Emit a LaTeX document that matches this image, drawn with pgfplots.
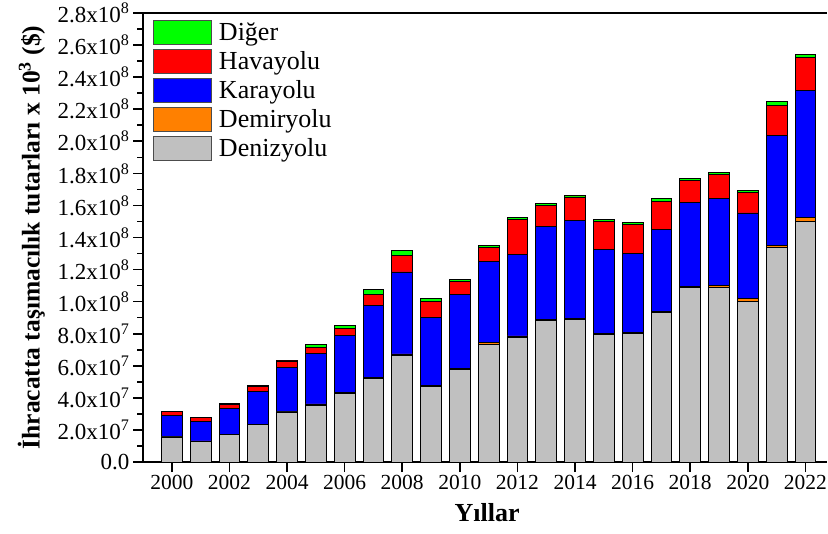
\documentclass[border=0pt]{standalone}
\usepackage{fontspec}
\setmainfont{Liberation Serif}
\usepackage{pgfplots}
\usepackage{pgfplotstable}
\pgfplotsset{compat=1.18}
\usetikzlibrary{calc}

\definecolor{cDeniz}{HTML}{C0C0C0}
\definecolor{cDemir}{HTML}{FF8000}
\definecolor{cKara}{HTML}{0000FF}
\definecolor{cHava}{HTML}{FF0000}
\definecolor{cDiger}{HTML}{00FF00}

% values in millions (x10^6)
\pgfplotstableread{
year deniz demir kara hava diger
2000 15.6 0.2 13.1 2.5 0.3
2001 12.9 0.2 12.1 2.5 0.3
2002 17.1 0.2 16.2 2.5 0.3
2003 23.3 0.3 20.3 3.3 0.4
2004 31.2 0.4 27.3 4.1 0.5
2005 35.4 0.8 31.4 3.7 1.9
2006 42.8 0.6 35.4 4.4 2.2
2007 52.0 1.0 44.5 6.9 3.0
2008 66.3 1.1 51.1 10.4 3.1
2009 47.2 0.8 42.2 10.0 1.9
2010 57.6 0.8 46.2 8.1 1.0
2011 73.2 1.2 50.6 8.9 1.0
2012 77.6 1.0 50.7 22.0 1.1
2013 88.2 0.8 57.8 13.3 1.4
2014 88.8 0.6 61.3 14.6 1.2
2015 79.4 1.0 52.1 17.6 1.1
2016 80.1 0.8 49.2 17.9 1.3
2017 93.2 0.8 50.9 17.5 1.9
2018 108.8 0.8 52.2 13.9 1.4
2019 108.8 1.2 54.3 14.9 1.5
2020 100.4 1.7 53.2 12.7 1.4
2021 133.9 1.2 68.8 18.7 2.3
2022 150.1 2.3 79.2 20.6 1.9
}\datatable

\begin{document}
\begin{tikzpicture}
\begin{axis}[
    name=ax,
    scale only axis,
    width=684pt, height=449pt,
    ybar stacked,
    bar width=20.7pt,
    xmin=1999, xmax=2022.75,
    ymin=0, ymax=280,
    axis x line*=bottom,
    axis y line*=left,
    axis line style={line width=1.6pt},
    xtick={2000,2002,...,2022},
    minor x tick num=1,
    ytick={0,20,...,280},
    minor y tick num=1,
    yticklabels={0.0, 2.0x10\textsuperscript{7}, 4.0x10\textsuperscript{7}, 6.0x10\textsuperscript{7}, 8.0x10\textsuperscript{7},
        1.0x10\textsuperscript{8}, 1.2x10\textsuperscript{8}, 1.4x10\textsuperscript{8}, 1.6x10\textsuperscript{8},
        1.8x10\textsuperscript{8}, 2.0x10\textsuperscript{8}, 2.2x10\textsuperscript{8}, 2.4x10\textsuperscript{8},
        2.6x10\textsuperscript{8}, 2.8x10\textsuperscript{8}},
    tick align=outside,
    major tick length=10pt,
    minor tick length=6pt,
    tick style={line width=1.6pt, black},
    xticklabel style={/pgf/number format/1000 sep={}, /pgf/number format/assume math mode=true, font=\fontsize{21.5}{24}\selectfont},
    yticklabel style={font=\fontsize{23}{26}\selectfont},
    xlabel={\textbf{Yıllar}},
    xlabel style={font=\fontsize{26}{30}\selectfont, at={(axis description cs:0.503,-0.112)}, anchor=center},
    ylabel={\textbf{İhracatta taşımacılık tutarları x 10\textsuperscript{3} (\$)}},
    ylabel style={font=\fontsize{25.5}{28}\selectfont, at={(axis description cs:-0.163,0.5)}, anchor=center, rotate=0},
    legend cell align=left,
    reverse legend,
    legend style={draw=none, fill=none, at={(axis description cs:0.0146,0.985)}, anchor=north west,
        font=\fontsize{26}{28}\selectfont, row sep=4.2pt, inner sep=0pt,
        nodes={inner sep=0pt, anchor=west},
        /tikz/every odd column/.append style={column sep=7pt}},
    legend image code/.code={\draw[#1, draw=black!70, line width=0.8pt] (0pt,-12pt) rectangle (58pt,12pt);},
    every axis plot/.append style={draw=black, line width=0.8pt},
]
\addplot[fill=cDeniz] table[x=year, y=deniz] {\datatable};
\addplot[fill=cDemir] table[x=year, y=demir] {\datatable};
\addplot[fill=cKara] table[x=year, y=kara] {\datatable};
\addplot[fill=cHava] table[x=year, y=hava] {\datatable};
\addplot[fill=cDiger] table[x=year, y=diger] {\datatable};
\legend{Denizyolu, Demiryolu, Karayolu, Havayolu, Diğer}
\end{axis}
\draw[line width=1.6pt] (ax.north west) -- (ax.north east);
\pgfresetboundingbox
\path ($(ax.south west)+(-143pt,-71pt)$) rectangle ($(ax.north east)+(1pt,13pt)$);
\end{tikzpicture}
\end{document}
